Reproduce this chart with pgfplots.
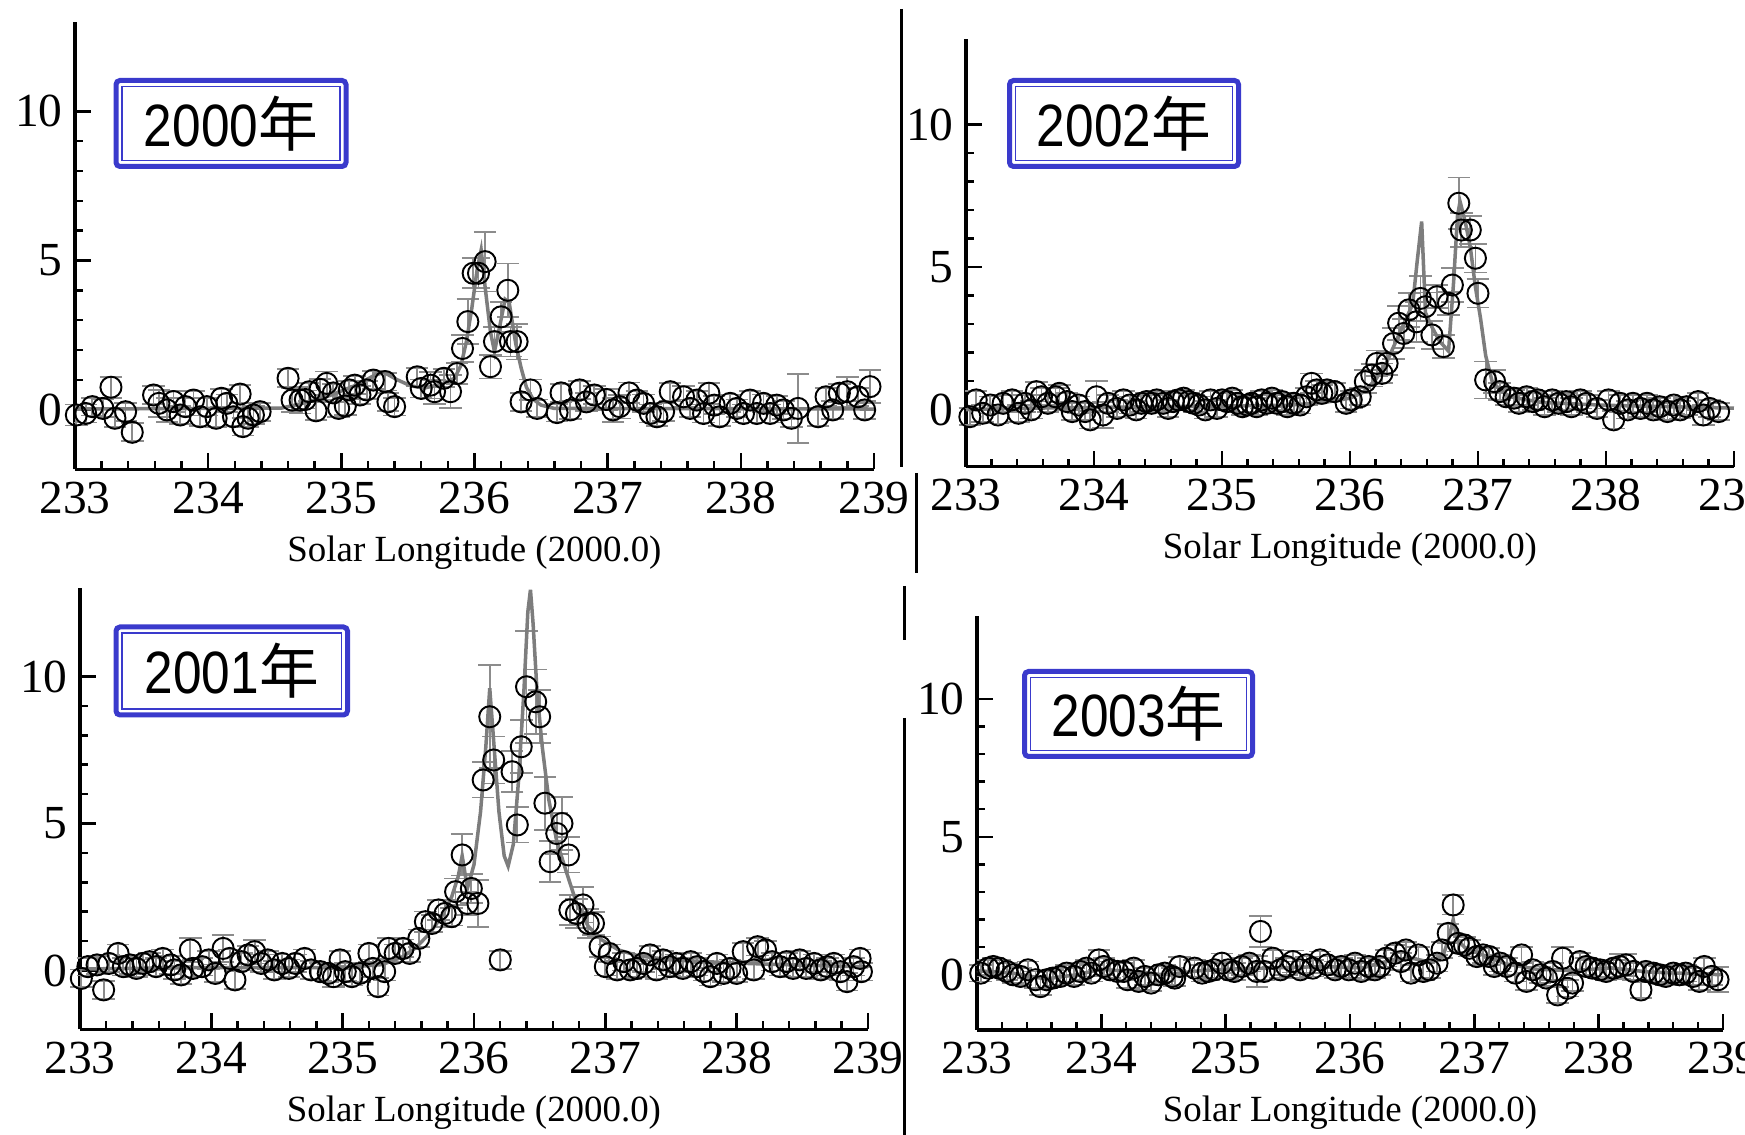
\documentclass[border=0pt]{standalone}
\usepackage{fontspec}
\setmainfont{Liberation Serif}
\newfontfamily\arial{Liberation Sans}
\newfontfamily\cjk{Noto Sans CJK SC}
\usepackage{graphicx}
\usepackage{pgfplots}
\usepackage{pgfplotstable}
\pgfplotsset{compat=1.18}

\definecolor{boxblue}{RGB}{58,58,204}
\definecolor{fitgray}{RGB}{125,125,125}
\definecolor{errgray}{RGB}{140,140,140}

% x y err  -- 2000
\pgfplotstableread{
x y e
233.01 -0.18 0.35
233.08 -0.13 0.3
233.13 0.10 0.3
233.21 0.04 0.3
233.27 0.75 0.35
233.30 -0.29 0.3
233.38 -0.07 0.3
233.43 -0.76 0.3
233.59 0.49 0.3
233.63 0.21 0.45
233.69 -0.01 0.4
233.74 0.27 0.35
233.79 -0.18 0.3
233.83 0.10 0.3
233.89 0.32 0.3
233.94 -0.24 0.3
233.99 0.10 0.3
234.06 -0.29 0.3
234.10 0.38 0.3
234.14 0.21 0.3
234.19 -0.24 0.3
234.24 0.52 0.3
234.26 -0.57 0.3
234.30 -0.29 0.3
234.34 -0.18 0.3
234.39 -0.07 0.3
234.60 1.05 0.3
234.63 0.32 0.4
234.69 0.32 0.45
234.73 0.34 0.3
234.76 0.60 0.3
234.81 -0.04 0.3
234.84 0.68 0.35
234.89 0.88 0.4
234.94 0.56 0.3
234.98 0.04 0.3
235.03 0.12 0.3
235.06 0.66 0.3
235.10 0.82 0.3
235.14 0.49 0.3
235.19 0.66 0.3
235.24 0.99 0.3
235.33 0.94 0.3
235.35 0.26 0.3
235.40 0.10 0.3
235.57 1.10 0.3
235.60 0.71 0.3
235.67 0.82 0.45
235.70 0.60 0.4
235.77 1.05 0.3
235.82 0.60 0.55
235.87 1.21 0.35
235.91 2.05 0.45
235.95 2.95 0.75
235.99 4.57 0.5
236.03 4.57 0.5
236.08 4.96 1.0
236.12 1.44 0.4
236.15 2.28 0.5
236.20 3.11 0.5
236.25 4.00 0.9
236.27 2.28 0.5
236.32 2.28 0.6
236.35 0.26 0.3
236.42 0.66 0.35
236.47 0.04 0.3
236.62 -0.10 0.3
236.65 0.56 0.3
236.72 -0.01 0.3
236.79 0.66 0.3
236.84 0.26 0.3
236.90 0.49 0.3
236.99 0.34 0.35
237.04 -0.01 0.4
237.09 0.10 0.4
237.16 0.56 0.35
237.22 0.32 0.3
237.27 0.21 0.3
237.32 -0.13 0.3
237.37 -0.24 0.3
237.42 -0.07 0.3
237.47 0.60 0.3
237.57 0.43 0.35
237.62 0.04 0.3
237.67 0.32 0.3
237.72 -0.13 0.3
237.76 0.55 0.35
237.80 0.15 0.3
237.84 -0.24 0.3
237.92 0.21 0.3
237.97 0.04 0.3
238.02 -0.13 0.3
238.07 0.32 0.3
238.12 -0.13 0.3
238.17 0.21 0.3
238.22 -0.13 0.3
238.27 0.15 0.3
238.32 -0.01 0.3
238.38 -0.29 0.3
238.43 0.04 1.15
238.58 -0.24 0.3
238.64 0.43 0.3
238.69 -0.01 0.3
238.74 0.55 0.3
238.80 0.60 0.5
238.88 0.43 0.3
238.93 -0.01 0.3
238.97 0.77 0.55
}\dataA
\pgfplotstableread{
x y
233.00 0.02
234.55 0.05
234.70 0.20
234.90 0.45
235.10 0.80
235.25 1.15
235.32 1.25
235.42 1.00
235.52 0.80
235.62 0.72
235.75 0.85
235.85 1.05
235.90 1.50
235.94 2.30
235.98 3.40
236.02 4.70
236.05 5.35
236.08 4.10
236.12 2.60
236.15 1.95
236.19 2.80
236.23 3.70
236.26 3.60
236.31 2.20
236.35 1.40
236.39 0.75
236.44 0.35
236.50 0.15
236.60 0.04
239.00 0.02
}\fitA

% 2002
\pgfplotstableread{
x y e
233.03 -0.25 0.3
233.08 0.34 0.3
233.13 -0.13 0.3
233.19 0.16 0.3
233.25 -0.19 0.3
233.29 0.22 0.3
233.36 0.34 0.3
233.41 -0.13 0.3
233.46 0.22 0.3
233.51 -0.01 0.3
233.55 0.63 0.35
233.59 0.45 0.3
233.64 0.22 0.3
233.70 0.45 0.3
233.73 0.57 0.3
233.79 0.28 0.3
233.83 -0.07 0.3
233.88 0.16 0.3
233.93 -0.07 0.3
233.97 -0.36 0.3
234.02 0.45 0.55
234.07 -0.19 0.45
234.11 0.22 0.3
234.18 0.04 0.3
234.23 0.34 0.3
234.28 0.16 0.3
234.33 -0.01 0.3
234.37 0.22 0.3
234.41 0.28 0.3
234.45 0.22 0.3
234.49 0.34 0.3
234.54 0.22 0.3
234.58 0.04 0.3
234.62 0.28 0.3
234.66 0.34 0.3
234.70 0.40 0.3
234.74 0.28 0.3
234.78 0.22 0.3
234.82 0.16 0.3
234.87 -0.01 0.3
234.91 0.34 0.3
234.96 0.04 0.3
235.00 0.34 0.3
235.04 0.28 0.3
235.08 0.40 0.3
235.12 0.22 0.3
235.16 0.10 0.3
235.20 0.16 0.3
235.23 0.22 0.3
235.27 0.10 0.3
235.31 0.34 0.3
235.35 0.22 0.3
235.39 0.40 0.3
235.43 0.22 0.3
235.47 0.28 0.3
235.51 0.10 0.3
235.56 0.22 0.3
235.61 0.16 0.3
235.66 0.45 0.3
235.70 0.92 0.35
235.74 0.69 0.3
235.78 0.57 0.3
235.82 0.69 0.3
235.88 0.63 0.3
235.97 0.22 0.3
236.01 0.34 0.3
236.08 0.45 0.3
236.12 0.98 0.4
236.17 1.21 0.4
236.21 1.62 0.45
236.25 1.27 0.35
236.29 1.62 0.4
236.34 2.32 0.55
236.38 3.03 0.6
236.42 2.67 0.5
236.46 3.50 0.6
236.52 3.08 0.7
236.55 3.90 0.8
236.59 3.61 0.5
236.64 2.62 0.5
236.68 3.96 0.4
236.73 2.21 0.4
236.77 3.73 0.4
236.80 4.37 0.6
236.85 7.24 0.9
236.87 6.30 0.6
236.94 6.30 0.5
236.98 5.31 0.5
237.00 4.08 0.5
237.06 1.04 0.65
237.13 0.98 0.4
237.17 0.63 0.3
237.22 0.45 0.3
237.28 0.40 0.3
237.32 0.22 0.3
237.38 0.45 0.3
237.43 0.28 0.3
237.47 0.34 0.3
237.52 0.10 0.3
237.58 0.34 0.3
237.63 0.22 0.3
237.69 0.28 0.3
237.73 0.10 0.3
237.80 0.34 0.3
237.85 0.22 0.3
237.93 0.04 0.3
238.02 0.34 0.3
238.06 -0.36 0.3
238.11 0.22 0.3
238.17 -0.01 0.3
238.21 0.22 0.3
238.27 0.04 0.3
238.32 0.22 0.3
238.37 -0.01 0.3
238.42 0.10 0.3
238.48 -0.07 0.3
238.53 0.16 0.3
238.58 -0.01 0.3
238.63 0.10 0.3
238.72 0.28 0.3
238.76 -0.19 0.35
238.81 0.04 0.3
238.88 -0.07 0.3
}\dataB
\pgfplotstableread{
x y
233.00 0.00
233.50 0.05
234.50 0.10
235.50 0.15
235.80 0.25
236.00 0.40
236.10 0.60
236.20 1.05
236.28 1.60
236.35 2.30
236.42 3.00
236.49 3.70
236.525 5.20
236.56 6.60
236.59 3.40
236.64 2.90
236.70 2.40
236.77 2.05
236.81 4.50
236.84 6.80
236.86 7.30
236.90 6.60
236.94 5.70
236.98 4.30
237.02 3.20
237.06 1.90
237.11 1.00
237.17 0.70
237.25 0.45
237.50 0.25
238.00 0.15
239.00 0.05
}\fitB

% 2001
\pgfplotstableread{
x y e
233.01 -0.27 0.3
233.06 0.13 0.3
233.13 0.19 0.3
233.18 -0.66 0.3
233.22 0.24 0.3
233.29 0.58 0.3
233.33 0.13 0.3
233.38 0.19 0.3
233.43 0.07 0.3
233.48 0.24 0.3
233.53 0.30 0.3
233.58 0.13 0.3
233.63 0.41 0.3
233.69 0.19 0.3
233.72 0.02 0.3
233.77 -0.15 0.3
233.84 0.70 0.4
233.86 0.07 0.3
233.93 0.13 0.3
233.98 0.36 0.3
234.03 -0.10 0.3
234.09 0.75 0.45
234.14 0.41 0.3
234.18 -0.32 0.3
234.23 0.30 0.3
234.28 0.53 0.3
234.33 0.64 0.4
234.38 0.24 0.3
234.43 0.36 0.3
234.48 0.02 0.3
234.54 0.24 0.3
234.59 0.07 0.3
234.64 0.24 0.3
234.71 0.41 0.3
234.76 0.02 0.3
234.83 -0.04 0.3
234.89 -0.10 0.3
234.93 -0.21 0.35
234.98 0.36 0.3
235.02 -0.04 0.3
235.07 -0.21 0.3
235.13 -0.10 0.3
235.20 0.58 0.3
235.23 0.07 0.3
235.27 -0.55 0.3
235.32 -0.04 0.3
235.35 0.75 0.35
235.40 0.58 0.3
235.46 0.75 0.3
235.51 0.58 0.3
235.58 1.09 0.3
235.63 1.66 0.35
235.68 1.60 0.3
235.73 2.06 0.35
235.78 1.94 0.45
235.83 1.83 0.3
235.86 2.68 0.45
235.91 3.93 0.7
235.95 2.28 0.4
235.98 2.79 0.5
236.03 2.28 0.8
236.07 6.48 0.6
236.12 8.63 1.75
236.15 7.16 0.8
236.20 0.36 0.3
236.29 6.76 0.7
236.33 4.95 0.6
236.36 7.61 0.9
236.40 9.65 1.9
236.47 9.14 1.1
236.50 8.63 0.9
236.54 5.69 0.9
236.58 3.70 0.7
236.63 4.66 0.7
236.67 5.00 0.9
236.72 3.93 0.6
236.73 2.06 0.5
236.78 1.94 0.5
236.83 2.23 0.6
236.87 1.60 0.5
236.91 1.60 0.4
236.96 0.81 0.35
237.00 0.13 0.3
237.03 0.58 0.3
237.09 0.02 0.3
237.14 0.30 0.3
237.19 0.02 0.3
237.24 0.07 0.3
237.29 0.24 0.3
237.34 0.53 0.3
237.39 0.02 0.3
237.44 0.36 0.3
237.49 0.13 0.3
237.54 0.24 0.3
237.59 0.07 0.3
237.65 0.30 0.3
237.70 0.13 0.3
237.75 -0.04 0.3
237.80 -0.21 0.3
237.85 0.24 0.3
237.90 -0.10 0.3
237.95 0.07 0.3
238.00 -0.10 0.3
238.05 0.64 0.3
238.13 0.02 0.3
238.16 0.81 0.3
238.22 0.70 0.3
238.27 0.30 0.3
238.33 0.13 0.3
238.38 0.30 0.3
238.43 0.07 0.3
238.48 0.36 0.3
238.53 0.07 0.3
238.59 0.24 0.3
238.64 0.02 0.3
238.69 0.13 0.3
238.74 0.24 0.3
238.79 -0.04 0.3
238.84 -0.38 0.3
238.89 0.13 0.3
238.94 0.41 0.3
238.95 -0.04 0.3
}\dataC
\pgfplotstableread{
x y
233.00 0.05
234.00 0.10
235.00 0.10
235.30 0.20
235.45 0.45
235.55 0.75
235.65 1.20
235.75 1.80
235.83 2.50
235.88 3.20
235.91 3.90
235.95 2.80
236.00 3.60
236.05 5.40
236.09 7.60
236.12 9.60
236.15 7.80
236.19 5.40
236.23 3.90
236.26 3.55
236.30 4.30
236.34 6.50
236.38 9.50
236.41 12.20
236.43 12.95
236.45 11.80
236.48 9.50
236.52 7.60
236.57 5.80
236.63 4.40
236.70 3.40
236.78 2.30
236.87 1.50
236.97 1.05
237.10 0.70
237.25 0.50
237.50 0.36
238.00 0.25
238.50 0.18
239.00 0.12
}\fitC

% 2003
\pgfplotstableread{
x y e
233.03 0.06 0.3
233.09 0.24 0.3
233.13 0.30 0.3
233.18 0.24 0.3
233.24 0.12 0.3
233.29 0.00 0.3
233.35 -0.06 0.3
233.41 0.18 0.3
233.47 -0.18 0.3
233.51 -0.43 0.3
233.56 -0.18 0.3
233.61 -0.12 0.3
233.67 -0.06 0.3
233.72 0.06 0.3
233.78 -0.06 0.3
233.83 0.12 0.3
233.88 0.24 0.3
233.92 0.06 0.3
233.98 0.54 0.35
234.02 0.30 0.3
234.07 0.18 0.3
234.13 0.12 0.3
234.18 0.12 0.3
234.21 -0.18 0.3
234.26 0.24 0.3
234.30 -0.24 0.3
234.35 -0.06 0.3
234.40 -0.30 0.3
234.46 0.00 0.3
234.51 0.06 0.3
234.57 -0.06 0.3
234.59 -0.12 0.3
234.63 0.30 0.35
234.75 0.24 0.3
234.81 0.06 0.3
234.86 0.12 0.3
234.91 0.18 0.3
234.97 0.42 0.35
235.02 0.18 0.3
235.07 0.12 0.3
235.13 0.30 0.3
235.19 0.42 0.3
235.25 0.12 0.55
235.28 1.57 0.55
235.31 0.12 0.3
235.38 0.60 0.3
235.44 0.18 0.3
235.49 0.30 0.3
235.54 0.48 0.4
235.60 0.18 0.3
235.65 0.36 0.3
235.70 0.24 0.3
235.76 0.54 0.3
235.82 0.36 0.3
235.88 0.18 0.3
235.93 0.30 0.3
235.99 0.18 0.3
236.04 0.42 0.3
236.09 0.12 0.3
236.15 0.30 0.3
236.20 0.18 0.3
236.24 0.30 0.3
236.29 0.60 0.3
236.36 0.78 0.3
236.41 0.48 0.3
236.45 0.90 0.3
236.49 0.06 0.3
236.55 0.72 0.3
236.59 0.12 0.3
236.64 0.18 0.3
236.70 0.42 0.3
236.74 0.90 0.3
236.79 1.50 0.35
236.83 2.53 0.35
236.87 1.14 0.3
236.92 1.08 0.3
236.96 0.96 0.3
237.02 0.66 0.3
237.07 0.72 0.3
237.12 0.66 0.3
237.16 0.30 0.3
237.21 0.42 0.3
237.26 0.30 0.3
237.33 0.06 0.3
237.38 0.72 0.3
237.42 -0.24 0.3
237.47 0.18 0.3
237.53 0.00 0.3
237.58 -0.12 0.3
237.63 0.12 0.3
237.67 -0.73 0.3
237.71 0.60 0.4
237.75 -0.49 0.3
237.79 -0.30 0.3
237.85 0.48 0.3
237.90 0.30 0.3
237.95 0.24 0.3
238.01 0.18 0.3
238.06 0.12 0.3
238.12 0.24 0.3
238.17 0.30 0.45
238.22 0.36 0.4
238.28 0.12 0.3
238.34 -0.55 0.3
238.38 0.12 0.3
238.44 0.06 0.3
238.49 0.00 0.3
238.54 -0.06 0.3
238.60 0.06 0.3
238.65 0.00 0.3
238.70 0.06 0.3
238.76 -0.06 0.3
238.81 -0.24 0.3
238.85 0.30 0.3
238.91 -0.06 0.3
238.96 -0.18 0.45
}\dataD
\pgfplotstableread{
x y
233.00 0.15
233.30 0.05
233.55 -0.15
233.80 0.00
234.00 0.20
234.30 0.10
234.50 0.00
234.80 0.15
235.00 0.20
235.40 0.25
235.80 0.30
236.10 0.25
236.35 0.55
236.50 0.60
236.65 0.45
236.75 0.70
236.80 1.40
236.83 2.00
236.86 1.30
236.92 1.00
237.05 0.75
237.25 0.40
237.50 0.20
237.80 0.15
238.10 0.25
238.40 0.10
238.70 0.05
239.00 0.00
}\fitD

\pgfplotsset{
  meteor/.style={
    scale only axis, clip=false,
    xmin=233, xmax=239, ymin=-2, ymax=13,
    axis x line*=bottom, axis y line*=left,
    axis line style={line width=0.9pt, -},
    xtick={233,234,...,239}, ytick={0,5,10},
    minor x tick num=4, minor y tick num=4,
    tick align=inside,
    major tick length=1.6mm, minor tick length=0.8mm,
    every tick/.style={black, line width=0.7pt},
    ticklabel style={font=\fontsize{13.5}{13.5}\selectfont},
    /pgf/number format/assume math mode=true,
    xlabel={Solar Longitude (2000.0)},
    xlabel style={font=\fontsize{10.5}{12}\selectfont,
      at={(axis description cs:0.5,0)}, anchor=center, yshift=-8.3mm},
  },
  errs/.style={draw=none, mark=none, forget plot,
    error bars/.cd, y dir=both, y explicit,
    error bar style={draw=errgray, line width=0.5pt},
    error mark options={rotate=90, draw=errgray, mark size=3.2pt, line width=0.5pt}},
  fit/.style={fitgray, line width=1.0pt, no marks},
  pts/.style={only marks, mark=o, mark size=3.0pt,
    mark options={draw=black, fill=none, line width=0.55pt}},
}

\newcommand{\yearbox}[5]{%
  \draw[boxblue, line width=0.5mm, rounded corners=0.4mm]
    (#1+2.5,#2+2.5) rectangle (#3-2.5,#4-2.5);
  \draw[boxblue, line width=0.18mm]
    (#1+8.5,#2+8.5) rectangle (#3-8.5,#4-8.5);
  \node[anchor=center, inner sep=0pt] at ({(#1+#3)/2},{(#2+#4)/2})
    {\arial\fontsize{17}{18}\selectfont\scalebox{0.86}[1]{#5}\cjk 年};
}

\begin{document}
\begin{tikzpicture}
\path[use as bounding box] (0,0) rectangle (174.5mm,113.5mm);

% 2000
\begin{axis}[meteor, at={(7.5mm,66.57mm)}, anchor=south west,
  width=79.9mm, height=44.75mm]
\addplot[errs] table[x=x, y=y, y error=e] {\dataA};
\addplot[fit] table[x=x, y=y] {\fitA};
\addplot[pts] table[x=x, y=y] {\dataA};
\end{axis}

% 2002
\begin{axis}[meteor, at={(96.6mm,66.84mm)}, anchor=south west,
  width=76.8mm, height=42.75mm]
\addplot[errs] table[x=x, y=y, y error=e] {\dataB};
\addplot[fit] table[x=x, y=y] {\fitB};
\addplot[pts] table[x=x, y=y] {\dataB};
\end{axis}

% 2001
\begin{axis}[meteor, at={(8.0mm,10.57mm)}, anchor=south west,
  width=78.8mm, height=44.1mm]
\addplot[errs] table[x=x, y=y, y error=e] {\dataC};
\addplot[fit] table[x=x, y=y] {\fitC};
\addplot[pts] table[x=x, y=y] {\dataC};
\end{axis}

% 2003
\begin{axis}[meteor, at={(97.7mm,10.5mm)}, anchor=south west,
  width=74.6mm, height=41.4mm]
\addplot[errs] table[x=x, y=y, y error=e] {\dataD};
\addplot[fit] table[x=x, y=y] {\fitD};
\addplot[pts] table[x=x, y=y] {\dataD};
\end{axis}

% pixel-like frame: 1 unit = 0.1mm, y downwards
\begin{scope}[x=0.1mm, y=-0.1mm, yshift=113.5mm]
  \draw[black, line width=0.3mm] (901,9) -- (901,467);
  \draw[black, line width=0.3mm] (916,473) -- (916,573);
  \draw[black, line width=0.3mm] (904,586) -- (904,640);
  \draw[black, line width=0.3mm] (904,718) -- (904,1135);
  \yearbox{113.5}{78}{348.5}{169}{2000}
  \yearbox{1007}{78}{1241}{169}{2002}
  \yearbox{113.5}{624.5}{350}{717.5}{2001}
  \yearbox{1022}{669}{1255}{759}{2003}
\end{scope}
\end{tikzpicture}
\end{document}
